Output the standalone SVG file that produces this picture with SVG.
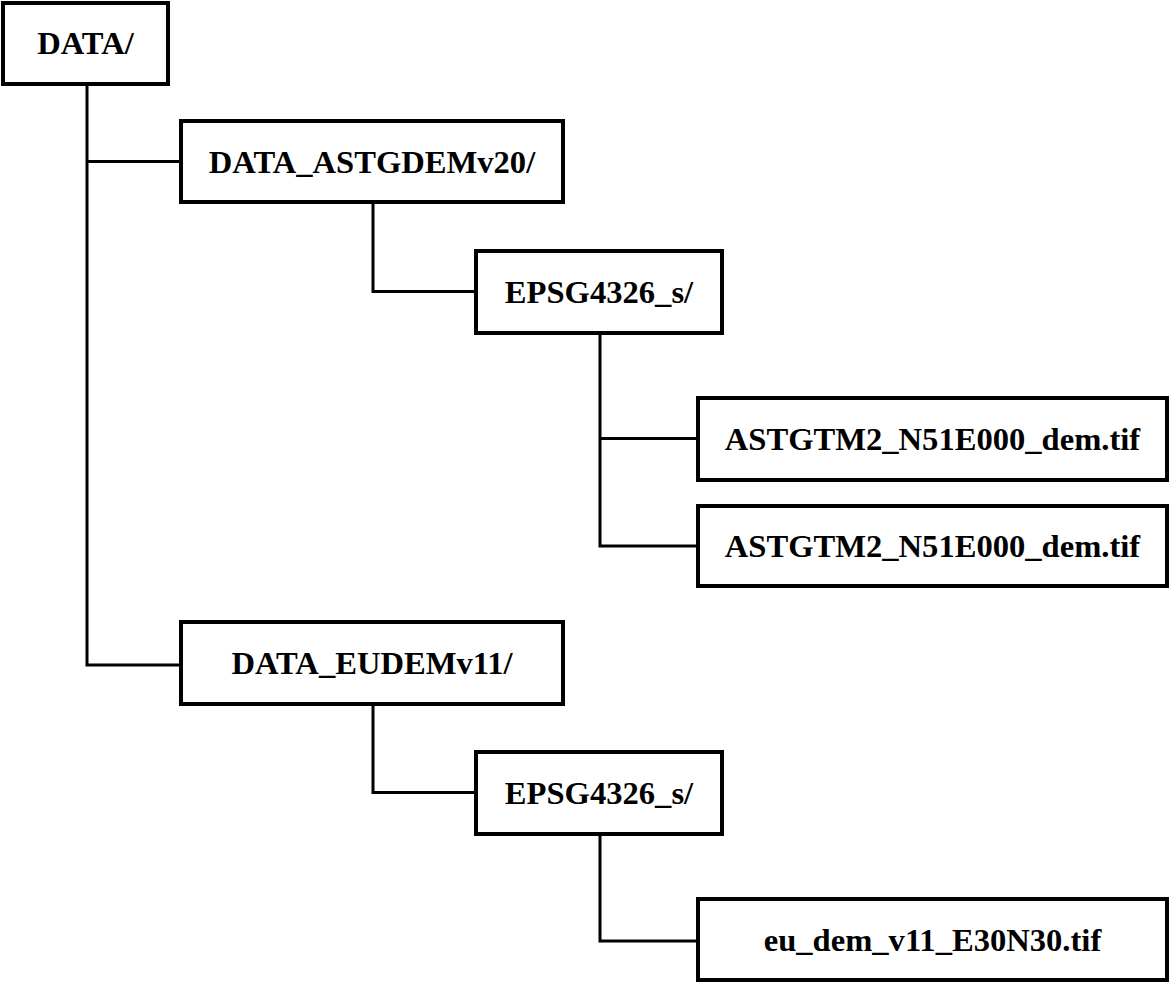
<svg xmlns="http://www.w3.org/2000/svg" width="1170" height="983" viewBox="0 0 1170 983">
<style>
.box{fill:#fff;stroke:#000;stroke-width:4}
.lbl{font-size:32.6px;font-weight:bold;fill:#000;text-anchor:middle}
.con{fill:none;stroke:#000;stroke-width:3}
</style>
<rect width="1170" height="983" fill="#fff"/>
<g id="connectors">
<path class="con" d="M87,84 V665 H181"/>
<path class="con" d="M87,161.5 H181"/>
<path class="con" d="M373,202 V291.5 H476"/>
<path class="con" d="M600,333 V546 H698"/>
<path class="con" d="M600,438.5 H698"/>
<path class="con" d="M373,704 V792.5 H476"/>
<path class="con" d="M600,834 V941 H698"/>
</g>
<g font-family="Liberation Serif, Times New Roman, serif">
<g id="n-data"><rect class="box" x="3" y="3" width="165" height="81"/><text class="lbl" x="85.5" y="54">DATA/</text></g>
<g id="n-astgdem"><rect class="box" x="181" y="121" width="382" height="81"/><text class="lbl" x="372" y="172.5">DATA_ASTGDEMv20/</text></g>
<g id="n-epsg1"><rect class="box" x="476" y="251" width="246" height="82"/><text class="lbl" x="599" y="303">EPSG4326_s/</text></g>
<g id="n-file1"><rect class="box" x="698" y="398" width="469" height="82"/><text class="lbl" x="932.5" y="450">ASTGTM2_N51E000_dem.tif</text></g>
<g id="n-file2"><rect class="box" x="698" y="506" width="469" height="80"/><text class="lbl" x="932.5" y="557">ASTGTM2_N51E000_dem.tif</text></g>
<g id="n-eudem"><rect class="box" x="181" y="622" width="382" height="82"/><text class="lbl" x="372" y="674">DATA_EUDEMv11/</text></g>
<g id="n-epsg2"><rect class="box" x="476" y="752" width="246" height="82"/><text class="lbl" x="599" y="804">EPSG4326_s/</text></g>
<g id="n-file3"><rect class="box" x="698" y="899" width="469" height="81"/><text class="lbl" x="932.5" y="950.5">eu_dem_v11_E30N30.tif</text></g>
</g>
</svg>
